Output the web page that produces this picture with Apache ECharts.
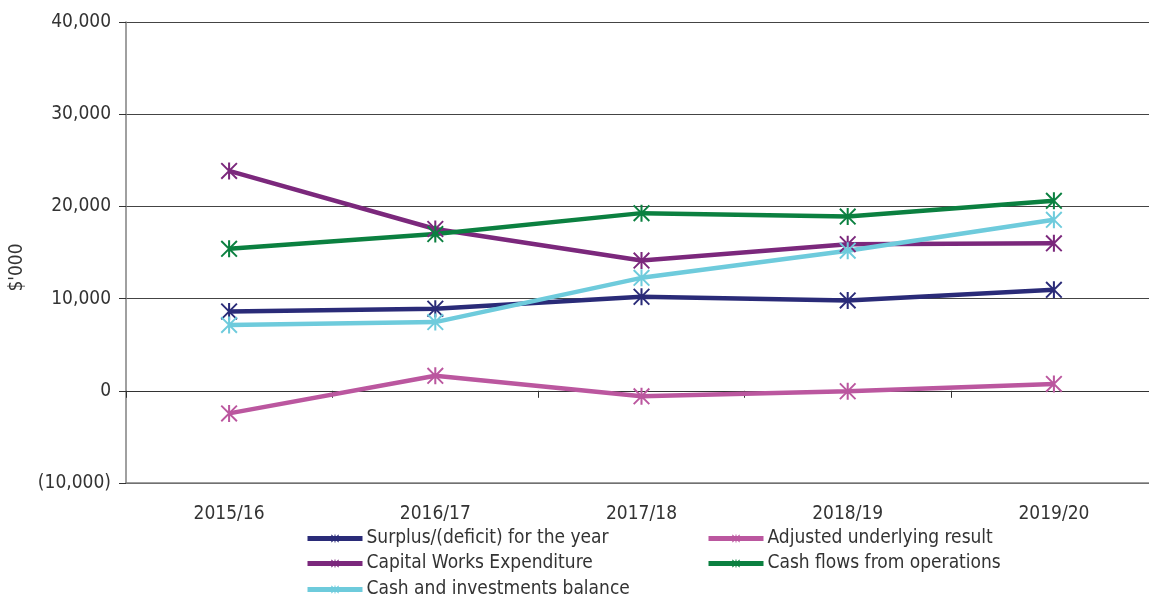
<!DOCTYPE html>
<html>
<head>
<meta charset="utf-8">
<script src="https://cdn.jsdelivr.net/npm/echarts@6/dist/echarts.min.js"></script>
<style>html,body{margin:0;padding:0;background:#fff}#c{width:1149px;height:601px}</style>
</head>
<body>
<div id="c"></div>
<script>
var categories = ['2015/16', '2016/17', '2017/18', '2018/19', '2019/20'];
var surplus = [8600, 8900, 10200, 9800, 10950];
var adjusted = [-2450, 1630, -600, -50, 750];
var capitalWorks = [23850, 17550, 14130, 15900, 16000];
var cashFlows = [15400, 17000, 19270, 18900, 20600];
var cashInvest = [7150, 7450, 12250, 15200, 18550];
var yTicks = [-10000, 0, 10000, 20000, 30000, 40000];
var seriesNames = ['Surplus/(deficit) for the year', 'Adjusted underlying result', 'Capital Works Expenditure', 'Cash flows from operations', 'Cash and investments balance'];

var FONT = '"Liberation Sans Narrow", "Arial Narrow", "DejaVu Sans Condensed", sans-serif';
var FS = 19;
var star = 'path://M44 0 L56 0 L56 100 L44 100 Z M0 8 L8 0 L100 92 L92 100 Z M92 0 L100 8 L8 100 L0 92 Z';

function mk(name, data, color) {
  return {
    name: name, type: 'line', data: data, xAxisIndex: 0,
    symbol: star, symbolSize: 17, showSymbol: true,
    lineStyle: {color: color, width: 4.5},
    itemStyle: {color: color},
    emphasis: {disabled: true}, animation: false
  };
}

// legend slots: [name index, left, top]
var legendSlots = [[0, 305, 529], [2, 305, 554], [4, 305, 580], [1, 706, 529], [3, 706, 554]];
var legends = legendSlots.map(function (s) {
  return {
    data: [seriesNames[s[0]]], left: s[1], top: s[2], padding: 0,
    itemWidth: 55, itemHeight: 10, itemGap: 0,
    lineStyle: {width: 5},
    textStyle: {color: '#333', fontFamily: FONT, fontSize: FS, padding: [0, 0, 0, -1]},
    selectedMode: false
  };
});

var chart = echarts.init(document.getElementById('c'));
chart.setOption({
  animation: false,
  backgroundColor: '#fff',
  grid: {left: 126, top: 22, right: -8, bottom: 118, containLabel: false, outerBoundsMode: 'none'},
  xAxis: [{
    type: 'category', data: categories, boundaryGap: true, position: 'bottom',
    axisLine: {onZero: false, lineStyle: {color: '#808080', width: 1.5}},
    axisTick: {show: false},
    axisLabel: {margin: 22, color: '#333', fontFamily: FONT, fontSize: FS}
  }, {
    type: 'category', data: categories, boundaryGap: true, position: 'bottom',
    axisLine: {onZero: true, lineStyle: {color: '#333', width: 1}},
    axisTick: {show: true, length: 7, lineStyle: {color: '#333'}},
    axisLabel: {show: false}
  }],
  yAxis: {
    type: 'value', min: yTicks[0], max: yTicks[yTicks.length - 1], interval: 10000,
    name: "$'000", nameLocation: 'middle', nameGap: 92,
    nameTextStyle: {color: '#333', fontFamily: FONT, fontSize: FS, padding: [0, 30, 0, 0]},
    axisLine: {show: true, lineStyle: {color: '#808080', width: 1.5}},
    axisTick: {show: true, length: 7, lineStyle: {color: '#333'}},
    splitLine: {lineStyle: {color: '#444', width: 1}},
    axisLabel: {
      margin: 15, color: '#333', fontFamily: FONT, fontSize: FS,
      formatter: function (v) {
        var s = Math.abs(v).toLocaleString('en-US');
        return v < 0 ? '(' + s + ')' : s;
      }
    }
  },
  legend: legends,
  series: [
    mk(seriesNames[0], surplus, '#2a2b78'),
    mk(seriesNames[1], adjusted, '#bb579f'),
    mk(seriesNames[2], capitalWorks, '#7b287c'),
    mk(seriesNames[3], cashFlows, '#0b8040'),
    mk(seriesNames[4], cashInvest, '#6ecbdc')
  ]
});
</script>
</body>
</html>
